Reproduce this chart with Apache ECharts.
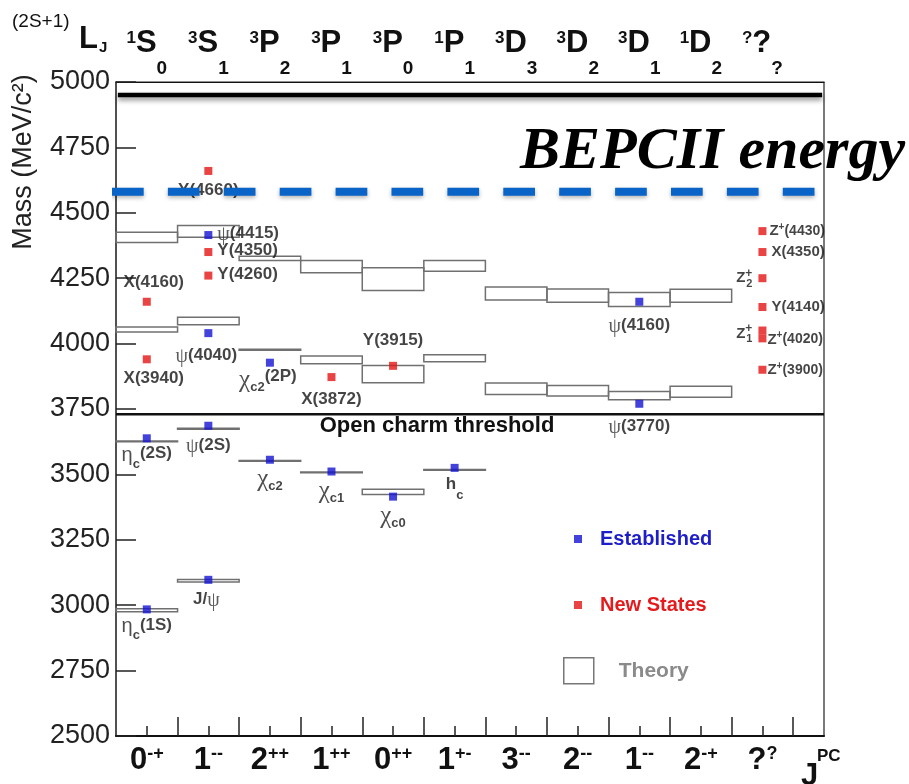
<!DOCTYPE html>
<html>
<head>
<meta charset="utf-8">
<script src="https://cdn.jsdelivr.net/npm/echarts@6/dist/echarts.min.js"></script>
<style>
  html, body { margin: 0; padding: 0; background: #fff; }
  #chart { width: 909px; height: 784px; }
</style>
</head>
<body>
<div id="chart"></div>
<script>
// J^PC quantum numbers of each column: [J, PC]
const jpc = [['0', '-+'], ['1', '--'], ['2', '++'], ['1', '++'], ['0', '++'], ['1', '+-'],
             ['3', '--'], ['2', '--'], ['1', '--'], ['2', '-+'], ['?', '?']];
// Spectroscopic term of each column: [2S+1, L, J]
const terms = [['1', 'S', '0'], ['3', 'S', '1'], ['3', 'P', '2'], ['3', 'P', '1'], ['3', 'P', '0'], ['1', 'P', '1'],
               ['3', 'D', '3'], ['3', 'D', '2'], ['3', 'D', '1'], ['1', 'D', '2'], ['?', '?', '?']];

// Mass axis (MeV/c^2)
const massMin = 2500;
const massMax = 5000;
const massStep = 250;

// Established charmonium states
const establishedNames  = ['ηc(1S)', 'ηc(2S)', 'J/ψ', 'ψ(2S)', 'ψ(4040)', 'ψ(4415)', 'χc2', 'χc2(2P)', 'χc1', 'χc0', 'hc', 'ψ(3770)', 'ψ(4160)'];
const establishedColumn = [0, 0, 1, 1, 1, 1, 2, 2, 3, 4, 5, 8, 8];
const establishedMass   = [2984, 3638, 3097, 3686, 4040, 4415, 3556, 3927, 3511, 3415, 3525, 3770, 4160];

// New (XYZ) states
const newNames  = ['X(3940)', 'X(4160)', 'Y(4260)', 'Y(4350)', 'Y(4660)', 'X(3872)', 'Y(3915)',
                   'Z+(4430)', 'X(4350)', 'Z2+', 'Y(4140)', 'Z1+', 'Z+(4020)', 'Z+(3900)'];
const newColumn = [0, 0, 1, 1, 1, 3, 4, 10, 10, 10, 10, 10, 10, 10];
const newMass   = [3940, 4160, 4260, 4350, 4660, 3872, 3915, 4430, 4350, 4250, 4140, 4050, 4020, 3900];

// Potential-model predictions: mass bands per column
const theoryColumn = [0, 0, 0, 0, 1, 1, 1, 1, 2, 2, 2, 3, 3, 3, 4, 4, 4, 5, 5, 5, 6, 6, 7, 7, 8, 8, 9, 9];
const theoryLow    = [2975, 3625, 4044, 4386, 3089, 3673, 4072, 4407, 3550, 3975, 4318, 3506, 3923, 4271,
                      3423, 3850, 4203, 3516, 3931, 4277, 3805, 4167, 3800, 4158, 3785, 4142, 3795, 4158];
const theoryHigh   = [2986, 3628, 4063, 4426, 3098, 3676, 4101, 4451, 3553, 3978, 4334, 3509, 3953, 4318,
                      3443, 3916, 4290, 3519, 3957, 4318, 3849, 4216, 3840, 4209, 3817, 4195, 3837, 4208];

// Reference masses
const thresholdMass = 3730;   // D Dbar threshold
const bepcMaxMass   = 4950;   // top of the BEPCII range
const bepcNowMass   = 4580;   // BEPCII energy

// ---------- styling ----------
const SANS = "'Liberation Sans', Arial, sans-serif";
const SERIF = "'Liberation Serif', 'Times New Roman', serif";
const INK = '#151515';
const nCols = jpc.length;
const colCenters = jpc.map((_, i) => i + 0.5);
const colEdges = jpc.map((_, i) => i + 1);

const stateRich = {
  t:  { fontFamily: SANS, fontSize: 17, fontWeight: 'bold', color: INK, lineHeight: 20, verticalAlign: 'top' },
  w:  { fontFamily: SANS, fontSize: 15, fontWeight: 'bold', color: INK, lineHeight: 18, verticalAlign: 'middle' },
  p:  { fontFamily: SERIF, fontSize: 20, color: '#333', lineHeight: 20, verticalAlign: 'top' },
  e:  { fontFamily: SANS, fontSize: 20, color: '#222', lineHeight: 20, verticalAlign: 'top' },
  x:  { fontFamily: SERIF, fontSize: 25, color: '#222', lineHeight: 20, verticalAlign: 'top' },
  s:  { fontFamily: SANS, fontSize: 13, fontWeight: 'bold', color: INK, lineHeight: 26, verticalAlign: 'bottom' },
  z:  { fontFamily: SANS, fontSize: 15, fontWeight: 'bold', color: INK, lineHeight: 18, verticalAlign: 'middle' },
  zp: { fontFamily: SANS, fontSize: 10, fontWeight: 'bold', color: INK, lineHeight: 10, verticalAlign: 'top' },
  zn: { fontFamily: SANS, fontSize: 14, fontWeight: 'bold', color: INK, lineHeight: 18, verticalAlign: 'middle' },
  // stacked Z charge/index: tokens laid out left to right, '+' takes no room so the index sits under it
  z2: { fontFamily: SANS, fontSize: 15, fontWeight: 'bold', color: INK, lineHeight: 22, verticalAlign: 'middle', align: 'left' },
  zk: { fontFamily: SANS, fontSize: 12, fontWeight: 'bold', color: INK, lineHeight: 10, width: 1, verticalAlign: 'top', align: 'left' },
  zb: { fontFamily: SANS, fontSize: 11, fontWeight: 'bold', color: INK, lineHeight: 6, verticalAlign: 'bottom', align: 'left' }
};

// [position, distance, dx, dy] of each state's name
const labelPlacement = {
  'ηc(1S)': ['bottom', 3, 0, 0], 'ηc(2S)': ['bottom', 3, 0, 0],
  'J/ψ': ['bottom', 7, -2, 0], 'ψ(2S)': ['bottom', 7, 0, 0], 'ψ(4040)': ['bottom', 10, -2, 0],
  'ψ(4415)': ['right', 5, 0, 0], 'χc2': ['bottom', 3, 0, 0], 'χc2(2P)': ['bottom', 1, -2, 0],
  'χc1': ['bottom', 3, 0, 0], 'χc0': ['bottom', 3, 0, 0], 'hc': ['bottom', 4, 0, 0],
  'ψ(3770)': ['bottom', 10, 0, 0], 'ψ(4160)': ['bottom', 11, 0, 0],
  'X(3940)': ['bottom', 7, 7, 0], 'X(4160)': ['top', 4, 7, 0], 'Y(4260)': ['right', 5, 0, 0],
  'Y(4350)': ['right', 5, 0, 0], 'Y(4660)': ['bottom', 7, 0, 0], 'X(3872)': ['bottom', 10, 0, 0],
  'Y(3915)': ['top', 10, 0, 0], 'Z+(4430)': ['right', 3, 0, 0], 'X(4350)': ['right', 5, 0, 0],
  'Z2+': ['left', 6, 0, 0], 'Y(4140)': ['right', 5, 0, 0], 'Z1+': ['left', 6, 0, 3],
  'Z+(4020)': ['right', 1, 0, 1], 'Z+(3900)': ['right', 1, 0, 0]
};

// Turns a state name into rich text (Greek letters, sub- and superscripts)
function markup(name, small) {
  let m = name.match(/^([ηχ])(c\d?)(.*)$/);
  if (m) return (m[1] === 'η' ? '{e|η}' : '{x|χ}') + '{s|' + m[2] + '}' + (m[3] ? '{t|' + m[3] + '}' : '');
  if (name === 'hc') return '{t|h}{s|c}';
  m = name.match(/^Z\+(.*)$/);
  if (m) return '{z|Z}{zp|+}{zn|' + m[1] + '}';
  m = name.match(/^Z(\d)\+$/);
  if (m) return '{z2|Z}{zk|+}{zb|' + m[1] + '}';
  const style = small ? 'w' : 't';
  return name.split('ψ').map(s => s ? '{' + style + '|' + s + '}' : '').join('{p|ψ}');
}

function statePoint(name, col, mass) {
  const [pos, dist, dx, dy] = labelPlacement[name];
  return {
    name: name,
    value: [col + 0.5, mass],
    label: { show: true, position: pos, distance: dist, offset: [dx, dy], formatter: markup(name, col === 10), rich: stateRich }
  };
}

const chart = echarts.init(document.getElementById('chart'), null, { renderer: 'canvas' });

const xBase = { type: 'value', min: 0, max: nCols + 0.5, splitLine: { show: false } };
const tickLine = { color: '#222', width: 1.5 };

const option = {
  animation: false,
  backgroundColor: '#fff',
  textStyle: { fontFamily: SANS },
  grid: { left: 116, right: 85, top: 82, bottom: 48, show: true, borderColor: '#222', borderWidth: 1.2, containLabel: false },
  xAxis: [
    Object.assign({}, xBase, {
      position: 'bottom',
      axisLine: { show: true, lineStyle: { color: '#111', width: 2 } },
      axisTick: { show: true, inside: true, length: 19, customValues: colEdges, lineStyle: tickLine },
      axisLabel: {
        customValues: colCenters, margin: 9,
        formatter: v => { const q = jpc[Math.round(v - 0.5)]; return '{m|' + q[0] + '}{u|' + q[1] + '}'; },
        rich: {
          m: { fontFamily: SANS, fontSize: 31, fontWeight: 'bold', color: '#111', lineHeight: 32, verticalAlign: 'top' },
          u: { fontFamily: SANS, fontSize: 18, fontWeight: 'bold', color: '#111', lineHeight: 14, verticalAlign: 'top' }
        }
      }
    }),
    Object.assign({}, xBase, {
      position: 'bottom',
      axisLine: { show: false },
      axisTick: { show: true, inside: true, length: 10, customValues: colCenters, lineStyle: tickLine },
      axisLabel: { show: false }
    }),
    Object.assign({}, xBase, {
      position: 'top',
      axisLine: { show: true, lineStyle: { color: '#111', width: 1.2 } },
      axisTick: { show: false },
      axisLabel: {
        customValues: colCenters, margin: 4,
        formatter: v => { const q = terms[Math.round(v - 0.5)]; return '{p|' + q[0] + '}{m|' + q[1] + '}{b|' + q[2] + '}'; },
        rich: {
          p: { fontFamily: SANS, fontSize: 17, fontWeight: 'bold', color: '#111', lineHeight: 18, padding: [2, 0, 0, 0], verticalAlign: 'top' },
          m: { fontFamily: SANS, fontSize: 31, fontWeight: 'bold', color: '#111', lineHeight: 50, verticalAlign: 'top' },
          b: { fontFamily: SANS, fontSize: 19, fontWeight: 'bold', color: '#111', lineHeight: 20, verticalAlign: 'bottom' }
        }
      }
    })
  ],
  yAxis: {
    type: 'value', min: massMin, max: massMax, interval: massStep,
    axisLine: { show: true, lineStyle: { color: '#444', width: 1.5 } },
    axisTick: { show: true, inside: true, length: 20, lineStyle: tickLine },
    axisLabel: { fontFamily: SANS, fontSize: 27, color: '#222', margin: 6, formatter: v => String(v) },
    splitLine: { show: false }
  },
  legend: [
    { data: ['Established'], left: 574, top: 529, padding: 0, icon: 'rect', itemWidth: 8, itemHeight: 8, selectedMode: false,
      textStyle: { color: '#1e1ec8', fontSize: 20, fontWeight: 'bold', fontFamily: SANS, padding: [0, 0, 0, 13] } },
    { data: ['New States'], left: 574, top: 595, padding: 0, icon: 'rect', itemWidth: 8, itemHeight: 8, selectedMode: false,
      textStyle: { color: '#e41a1c', fontSize: 20, fontWeight: 'bold', fontFamily: SANS, padding: [0, 0, 0, 13] } },
    { data: ['Theory'], left: 563, top: 657, padding: 0, icon: 'rect', itemWidth: 30, itemHeight: 26, selectedMode: false,
      itemStyle: { color: '#fff', borderColor: '#777', borderWidth: 1.5 },
      textStyle: { color: '#8a8a8a', fontSize: 21, fontWeight: 'bold', fontFamily: SANS, padding: [0, 0, 0, 20] } }
  ],
  series: [
    {
      name: 'Theory', type: 'custom', z: 2,
      data: theoryColumn.map((c, i) => [c, theoryLow[i], theoryHigh[i]]),
      encode: { x: 0, y: [1, 2] },
      renderItem: (params, api) => {
        const c = api.value(0);
        const a = api.coord([c, api.value(2)]);
        const b = api.coord([c + 1, api.value(1)]);
        return { type: 'rect', shape: { x: a[0], y: a[1], width: b[0] - a[0], height: b[1] - a[1] },
                 style: { fill: 'none', stroke: '#707070', lineWidth: 1.5 } };
      }
    },
    {
      name: 'Threshold', type: 'line', z: 3, symbol: 'none', silent: true,
      data: [[0, thresholdMass], [nCols + 0.5, thresholdMass]],
      lineStyle: { color: '#111', width: 2.5 }
    },
    {
      name: 'BEPCII max', type: 'line', z: 3, symbol: 'none', silent: true, clip: false,
      data: [[0.03, bepcMaxMass], [nCols + 0.47, bepcMaxMass]],
      lineStyle: { color: '#000', width: 4.5, shadowColor: 'rgba(0,0,0,0.45)', shadowBlur: 5, shadowOffsetY: 3 }
    },
    {
      name: 'Established', type: 'scatter', z: 4, symbol: 'rect', symbolSize: 8,
      itemStyle: { color: '#1414d2' },
      data: establishedNames.map((n, i) => statePoint(n, establishedColumn[i], establishedMass[i]))
    },
    {
      name: 'New States', type: 'scatter', z: 4, symbol: 'rect', symbolSize: 8,
      itemStyle: { color: '#e41414' },
      data: newNames.map((n, i) => statePoint(n, newColumn[i], newMass[i]))
    },
    {
      name: 'BEPCII energy', type: 'line', z: 6, symbol: 'none', silent: true, clip: false,
      data: [[-0.065, bepcNowMass], [11.35, bepcNowMass]],
      lineStyle: { color: '#0a64c8', width: 8, type: [31.7, 24.2], cap: 'butt',
                   shadowColor: 'rgba(0,0,0,0.3)', shadowBlur: 4, shadowOffsetY: 2 }
    }
  ],
  graphic: [
    { type: 'text', x: 12, y: 22, style: { text: '(2S+1)', font: '19px ' + SANS, fill: '#111', align: 'left', verticalAlign: 'middle' } },
    { type: 'text', x: 79, y: 39, style: { text: 'L', font: 'bold 31px ' + SANS, fill: '#111', align: 'left', verticalAlign: 'middle' } },
    { type: 'text', x: 99, y: 48, style: { text: 'J', font: 'bold 15px ' + SANS, fill: '#111', align: 'left', verticalAlign: 'middle' } },
    { type: 'text', x: 801, y: 776, style: { text: 'J', font: 'bold 31px ' + SANS, fill: '#111', align: 'left', verticalAlign: 'middle' } },
    { type: 'text', x: 817, y: 756, style: { text: 'PC', font: 'bold 17px ' + SANS, fill: '#111', align: 'left', verticalAlign: 'middle' } },
    { type: 'text', x: 24, y: 162, rotation: Math.PI / 2,
      style: { text: 'Mass (MeV/c²)', font: '27px ' + SANS, fill: '#222', align: 'center', verticalAlign: 'middle' } },
    { type: 'text', x: 520, y: 152, z: 10,
      style: { text: 'BEPCII energy', font: 'italic bold 60px ' + SERIF, fill: '#000', align: 'left', verticalAlign: 'middle' } },
    { type: 'text', x: 437, y: 426,
      style: { text: 'Open charm threshold', font: 'bold 22px ' + SANS, fill: '#111', align: 'center', verticalAlign: 'middle' } }
  ]
};

chart.setOption(option);
</script>
</body>
</html>
